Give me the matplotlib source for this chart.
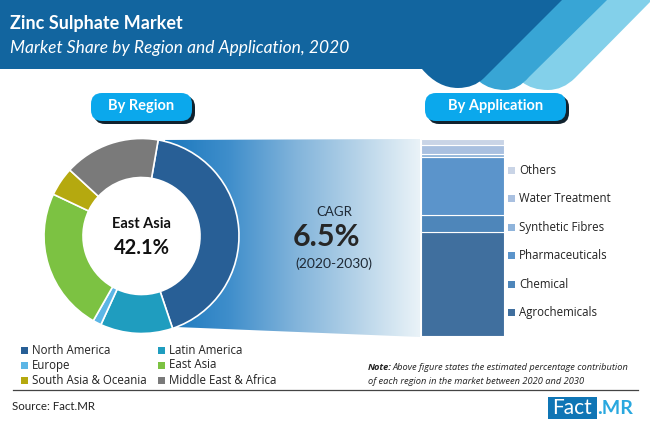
import matplotlib
matplotlib.use('Agg')
import matplotlib.pyplot as plt
import numpy as np
from matplotlib.colors import LinearSegmentedColormap
from matplotlib.patches import Circle, FancyBboxPatch, PathPatch, Polygon, Rectangle
from matplotlib.path import Path

# Region shares
regions = ['North America', 'Latin America', 'Europe', 'East Asia', 'South Asia & Oceania', 'Middle East & Africa']
region_values = [42.1, 12.0, 1.4, 23.8, 4.8, 15.9]
region_colors = ['#285f96', '#1f9dbf', '#5cb6e6', '#7cc242', '#b5a90f', '#7a7a7a']

# Application shares, bottom to top
applications = ['Agrochemicals', 'Chemical', 'Pharmaceuticals', 'Synthetic Fibres', 'Water Treatment', 'Others']
application_values = [53.0, 8.5, 29.5, 1.5, 4.5, 3.0]
application_colors = ['#406f9e', '#4e86ba', '#5b94cb', '#8fb4db', '#a9c0e0', '#c9d4e6']

W, H = 650, 424
plt.rcParams['font.family'] = ['Lato', 'DejaVu Sans']
fig = plt.figure(figsize=(W / 100, H / 100), dpi=100)


def axes_px(x0, y0, x1, y1):
    return fig.add_axes([x0 / W, 1 - y1 / H, (x1 - x0) / W, (y1 - y0) / H])


# Background axes works in image pixels
bg = fig.add_axes([0, 0, 1, 1], zorder=0)
bg.set_xlim(0, W)
bg.set_ylim(H, 0)
bg.axis('off')

# Header bands
C3, L = Path.CURVE3, Path.LINETO
light = [(600, 0), (652, 0), (575, 78), (563, 90), (548, 90), (532, 90), (522, 82), (500, 60)]
mid = [(550, 0), (607, 0), (529, 77), (518, 90), (505, 90), (490, 90), (480, 82), (470, 70)]
dark = [(0, 0), (562, 0), (484, 78), (474, 88), (458, 88), (438, 88), (422, 69), (0, 69)]
band_codes = [Path.MOVETO, L, L, C3, C3, C3, C3, L]
for pts, c in [(light, '#83d0ea'), (mid, '#38a5d5'), (dark, '#12659f')]:
    bg.add_patch(PathPatch(Path(pts, band_codes), fc=c, ec='none'))

bg.text(10, 24, 'Zinc Sulphate Market', color='white', fontsize=13, fontweight='bold', va='center')
bg.text(10, 48, 'Market Share by Region and Application, 2020', color='white', fontsize=12.5, style='italic', va='center')

# Pills
for x0, x1, label in [(91, 192, 'By Region'), (425, 566, 'By Application')]:
    bg.add_patch(FancyBboxPatch((x0 + 3, 96), x1 - x0, 28, boxstyle='round,pad=0,rounding_size=11', fc='#10222e', ec='none'))
    bg.add_patch(FancyBboxPatch((x0, 93), x1 - x0, 28, boxstyle='round,pad=0,rounding_size=11', fc='#0ba8ec', ec='none'))
    bg.text((x0 + x1) / 2, 106, label, color='white', fontsize=10.5, fontweight='bold', ha='center', va='center')

# Gradient funnel from the donut to the bar
funnel = Polygon([(158, 140), (420, 139), (420, 337), (176, 327), (141, 236)], closed=True, fc='none', ec='none')
bg.add_patch(funnel)
cmap = LinearSegmentedColormap.from_list('funnel', ['#1b78bd', '#3f8ecb', '#7fb2da', '#b4d2e8', '#eaf3f8'])
img = bg.imshow(np.linspace(0, 1, 256).reshape(1, -1), extent=(165, 420, 337, 139), cmap=cmap, aspect='auto')
img.set_clip_path(funnel)
bg.set_xlim(0, W)
bg.set_ylim(H, 0)

bg.text(334, 212, 'CAGR', color='#1f2a36', fontsize=9.5, ha='center', va='center')
bg.text(326, 237, '6.5%', color='#262626', fontsize=22, fontweight='bold', ha='center', va='center')
bg.text(334, 264, '(2020-2030)', color='#1f2a36', fontsize=10, ha='center', va='center')

# Donut
ax1 = axes_px(44, 138.5, 239, 333.5)
ax1.set_zorder(1)
ax1.pie(region_values, colors=region_colors, startangle=80.15, counterclock=False, radius=1,
        wedgeprops=dict(width=0.4, edgecolor='white', linewidth=1.2))
ax1.set_xlim(-1, 1)
ax1.set_ylim(-1, 1)
ax1.add_patch(Circle((0, 0), 0.6, fc='white', ec='none', zorder=3))
ax1.text(0, 0.125, 'East Asia', fontsize=10.5, fontweight='bold', ha='center', va='center', color='#111111', zorder=4)
ax1.text(0, -0.125, '42.1%', fontsize=14.5, fontweight='bold', ha='center', va='center', color='#111111', zorder=4)

# Stacked bar
ax2 = axes_px(421, 139, 504, 336)
ax2.set_zorder(1)
bottom = 0
for val, c in zip(application_values, application_colors):
    ax2.bar(0, val, bottom=bottom, width=1, color=c, edgecolor='white', linewidth=0.8)
    bottom += val
ax2.set_xlim(-0.5, 0.5)
ax2.set_ylim(0, bottom)
ax2.axis('off')

# Application legend
for i, name in enumerate(applications):
    y = 312.5 - i * 28.5
    bg.add_patch(Rectangle((508, y - 3.5), 7, 7, fc=application_colors[i], ec='none'))
    bg.text(519, y, name, fontsize=8.3, color='#222222', va='center', family=['Open Sans', 'DejaVu Sans'])

# Region legend
legend_x = [21, 158]
legend_y = [350, 365, 380]
for i, name in enumerate(regions):
    x = legend_x[i % 2]
    y = legend_y[i // 2]
    bg.add_patch(Rectangle((x, y - 3.5), 7, 7, fc=region_colors[i], ec='none'))
    bg.text(x + 11, y, name, fontsize=8.3, color='#222222', va='center', family=['Open Sans', 'DejaVu Sans'])

# Note
note_font = ['Open Sans', 'DejaVu Sans']
bg.text(368, 367, 'Note:', fontsize=6.7, fontweight='bold', style='italic', color='#222222', va='center', family=note_font)
bg.text(393, 367, 'Above figure states the estimated percentage contribution', fontsize=6.7, style='italic', color='#222222', va='center', family=note_font)
bg.text(368, 381, 'of each region in the market between 2020 and 2030', fontsize=6.7, style='italic', color='#222222', va='center', family=note_font)

# Footer
bg.plot([13, 638], [390, 390], color='#444444', lw=0.9)
bg.text(12, 407, 'Source: Fact.MR', fontsize=8.3, color='#222222', va='center')
bg.add_patch(Rectangle((548, 397), 49, 22, fc='#0f75b5', ec='none'))
bg.text(572.5, 408, 'Fact', fontsize=15, color='white', ha='center', va='center')
bg.text(597, 408, '.MR', fontsize=14, fontweight='bold', color='#29a8df', ha='left', va='center')

fig.savefig('out.png', dpi=100)
